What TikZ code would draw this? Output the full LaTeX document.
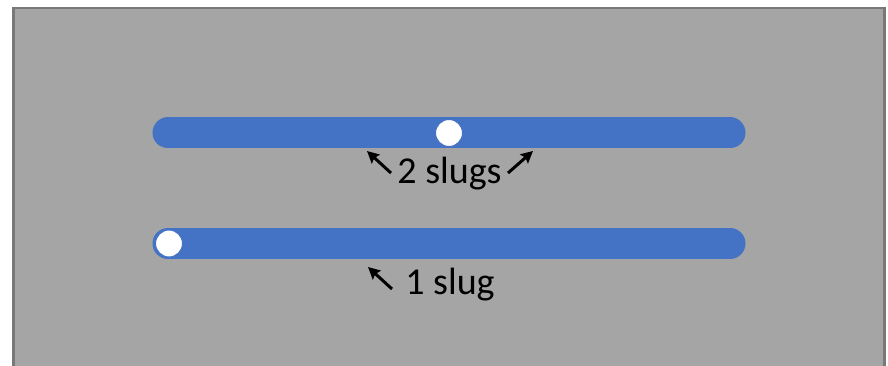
\documentclass[tikz,border=0pt]{standalone}
\usepackage{fontspec}
\setmainfont{Carlito}
\usetikzlibrary{arrows.meta}
\definecolor{bggray}{HTML}{A5A5A5}
\definecolor{edgegray}{HTML}{787878}
\definecolor{barblue}{HTML}{4472C4}
\begin{document}
\begin{tikzpicture}[x=1pt,y=-1pt,
  bar/.style={line width=31pt, barblue, line cap=round},
  slug/.style={circle, fill=white, draw=barblue, line width=1pt, minimum size=27pt, inner sep=0pt},
  lbl/.style={font=\fontsize{38}{45}\selectfont, anchor=base, inner sep=0pt},
  ptr/.style={line width=3pt, -{Stealth[length=12pt,width=12pt,inset=2pt]}}]
\useasboundingbox (0,0) rectangle (888,366);
\fill[bggray] (13.5,8) rectangle (884.5,380);
\draw[edgegray, line width=2.5pt] (13.5,380) -- (13.5,8) -- (884.5,8) -- (884.5,380);
% bars
\coordinate (t1) at (168,133); \coordinate (t2) at (730,133);
\coordinate (b1) at (168,243.5); \coordinate (b2) at (730,243.5);
\draw[bar] (t1) -- (t2);
\draw[bar] (b1) -- (b2);
% slugs
\node[slug] (s1) at (449,133) {};
\node[slug] (s2) at (169,243.5) {};
% labels
\node[lbl] (two) at (449.5,183) {2 slugs};
\node[lbl] (one) at (450,294) {1 slug};
% arrows
\coordinate (a1t) at (391,173); \coordinate (a1h) at (367,151);
\coordinate (a2t) at (508,173); \coordinate (a2h) at (533,151);
\coordinate (a3t) at (392,289); \coordinate (a3h) at (368,267);
\draw[ptr] (a1t) -- (a1h);
\draw[ptr] (a2t) -- (a2h);
\draw[ptr] (a3t) -- (a3h);
\end{tikzpicture}
\end{document}
